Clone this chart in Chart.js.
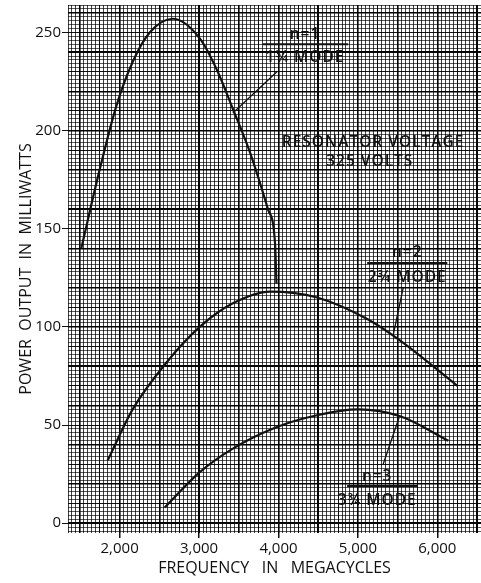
<!DOCTYPE html>
<html>
<head>
<meta charset="utf-8">
<script src="https://cdn.jsdelivr.net/npm/chart.js@4/dist/chart.umd.min.js"></script>
<style>
    body { margin: 0; background: #fff; }
    canvas { display: block; }
</style>
</head>
<body>
<canvas id="powerChart" width="481" height="583"></canvas>
<script>
// axis ticks
const freqTicks = [2000, 3000, 4000, 5000, 6000];
const powerTicks = [0, 50, 100, 150, 200, 250];

// n=1, 1 3/4 mode
const n1Freq = [1517, 1748, 1962, 2164, 2379, 2669, 3009, 3224, 3426, 3640, 3867, 3956, 3975];
const n1Power = [140, 180, 213, 235, 250, 257, 247, 231, 211, 189, 160, 143, 122];

// n=2, 2 3/4 mode
const n2Freq = [1850, 2164, 2593, 3009, 3426, 3893, 4486, 5117, 5533, 6252];
const n2Power = [32, 58, 82, 100, 112, 118, 115, 104, 93, 70];

// n=3, 3 3/4 mode
const n3Freq = [2568, 3009, 3426, 3981, 4486, 5003, 5533, 6139];
const n3Power = [8, 26, 38, 49, 55, 58, 54.5, 42];

// leader lines from the mode labels to the curves
const leader1Freq = [3981, 3426];
const leader1Power = [230, 209];
const leader2Freq = [5571, 5445];
const leader2Power = [120, 96];
const leader3Freq = [5318, 5520];
const leader3Power = [30, 54];

// labels placed in data units: [text, freq, power]
const noteLabels = [
    ["n=1", 4334, 249],
    ["1\u00BE MODE", 4334, 237],
    ["RESONATOR VOLTAGE", 5192, 194],
    ["325 VOLTS", 5150, 184],
    ["n=2", 5621, 138],
    ["2\u00BE MODE", 5621, 125],
    ["n=3", 5243, 23.5],
    ["3\u00BE MODE", 5243, 11.5]
];
// underlines: [freqFrom, freqTo, power]
const noteRules = [
    [3804, 4877, 244],
    [5117, 6126, 132.5],
    [4864, 5748, 19]
];

function toPoints(xs, ys) {
    return xs.map((x, i) => ({ x: x, y: ys[i] }));
}

function curve(xs, ys) {
    return {
        data: toPoints(xs, ys),
        borderColor: "#111",
        borderWidth: 2.2,
        pointRadius: 0,
        cubicInterpolationMode: "monotone",
        fill: false
    };
}

function leader(xs, ys) {
    return {
        data: toPoints(xs, ys),
        borderColor: "#111",
        borderWidth: 1.3,
        pointRadius: 0,
        tension: 0,
        fill: false
    };
}

const noteFont = "600 15.5px 'Open Sans'";

const notesPlugin = {
    id: "notes",
    afterDatasetsDraw(chart) {
        const ctx = chart.ctx;
        const xs = chart.scales.x;
        const ys = chart.scales.y;
        ctx.save();
        ctx.fillStyle = "#111";
        ctx.strokeStyle = "#111";
        ctx.font = noteFont;
        ctx.letterSpacing = "1px";
        ctx.textAlign = "center";
        ctx.textBaseline = "middle";
        noteLabels.forEach(function (n) {
            ctx.fillText(n[0], xs.getPixelForValue(n[1]), ys.getPixelForValue(n[2]));
        });
        ctx.lineWidth = 2;
        noteRules.forEach(function (r) {
            const y = ys.getPixelForValue(r[2]);
            ctx.beginPath();
            ctx.moveTo(xs.getPixelForValue(r[0]), y);
            ctx.lineTo(xs.getPixelForValue(r[1]), y);
            ctx.stroke();
        });
        ctx.restore();
    }
};

const xMin = 1350, xMax = 6550, yMin = -5, yMax = 264;

// graph-paper rulings: an extra axis that only draws grid lines
function gridAxis(axis, min, max, step, color, width, dash) {
    return {
        type: "linear",
        axis: axis,
        position: axis === "x" ? "bottom" : "left",
        min: min,
        max: max,
        ticks: { display: false, autoSkip: false },
        border: { display: false },
        grid: { color: color, lineWidth: width, drawTicks: false, borderDash: dash },
        afterBuildTicks: function (scale) {
            const list = [];
            for (let v = Math.ceil(min / step) * step; v <= max; v += step) {
                list.push({ value: v });
            }
            scale.ticks = list;
        },
        afterFit: function (scale) {
            if (axis === "x") scale.height = 0; else scale.width = 0;
            scale.paddingTop = 0;
            scale.paddingBottom = 0;
            scale.paddingLeft = 0;
            scale.paddingRight = 0;
        }
    };
}

const ctx = document.getElementById("powerChart").getContext("2d");
new Chart(ctx, {
    type: "line",
    data: {
        datasets: [
            curve(n1Freq, n1Power),
            curve(n2Freq, n2Power),
            curve(n3Freq, n3Power),
            leader(leader1Freq, leader1Power),
            leader(leader2Freq, leader2Power),
            leader(leader3Freq, leader3Power)
        ]
    },
    plugins: [notesPlugin],
    options: {
        responsive: false,
        animation: false,
        layout: { padding: { top: 5, right: 0, left: 0, bottom: 0 } },
        plugins: {
            legend: { display: false },
            tooltip: { enabled: false }
        },
        scales: {
            x: {
                type: "linear",
                position: "bottom",
                min: xMin,
                max: xMax,
                afterBuildTicks: function (scale) {
                    scale.ticks = freqTicks.map(v => ({ value: v }));
                },
                afterFit: function (scale) {
                    scale.height = 50;
                    scale.paddingLeft = 0;
                    scale.paddingRight = 0;
                },
                ticks: {
                    color: "#111",
                    padding: 2,
                    autoSkip: false,
                    maxRotation: 0,
                    font: { family: "Open Sans", size: 15 },
                    callback: v => v.toLocaleString("en-US")
                },
                grid: { drawOnChartArea: false, drawTicks: true, tickLength: 5, color: "#111", lineWidth: 1.5 },
                border: { display: false },
                title: {
                    display: true,
                    text: "FREQUENCY   IN   MEGACYCLES",
                    color: "#111",
                    font: { family: "Open Sans", size: 16 },
                    padding: { top: 0, bottom: 5 }
                }
            },
            y: {
                type: "linear",
                position: "left",
                min: yMin,
                max: yMax,
                afterBuildTicks: function (scale) {
                    scale.ticks = powerTicks.map(v => ({ value: v }));
                },
                afterFit: function (scale) {
                    scale.width = 68;
                    scale.paddingTop = 0;
                    scale.paddingBottom = 0;
                },
                ticks: {
                    color: "#111",
                    padding: 1,
                    font: { family: "Open Sans", size: 15 }
                },
                grid: { drawOnChartArea: false, drawTicks: true, tickLength: 6, color: "#111", lineWidth: 1 },
                border: { display: false },
                title: {
                    display: true,
                    text: "POWER  OUTPUT  IN  MILLIWATTS",
                    color: "#111",
                    font: { family: "Open Sans", size: 16 },
                    padding: { top: 17, bottom: 0 }
                }
            },
            xFine: gridAxis("x", xMin, xMax, 50, "rgba(0,0,0,0.75)", 1, [1, 1]),
            yFine: gridAxis("y", yMin, yMax, 2, "rgba(0,0,0,0.65)", 1, [1, 1]),
            xMid: gridAxis("x", xMin, xMax, 250, "rgba(0,0,0,0.8)", 1, []),
            yMid: gridAxis("y", yMin, yMax, 10, "rgba(0,0,0,0.8)", 1, []),
            xMajor: gridAxis("x", xMin, xMax, 500, "#000", 1.6, []),
            yMajor: gridAxis("y", yMin, yMax, 20, "#000", 1.6, [])
        }
    }
});
</script>
</body>
</html>
